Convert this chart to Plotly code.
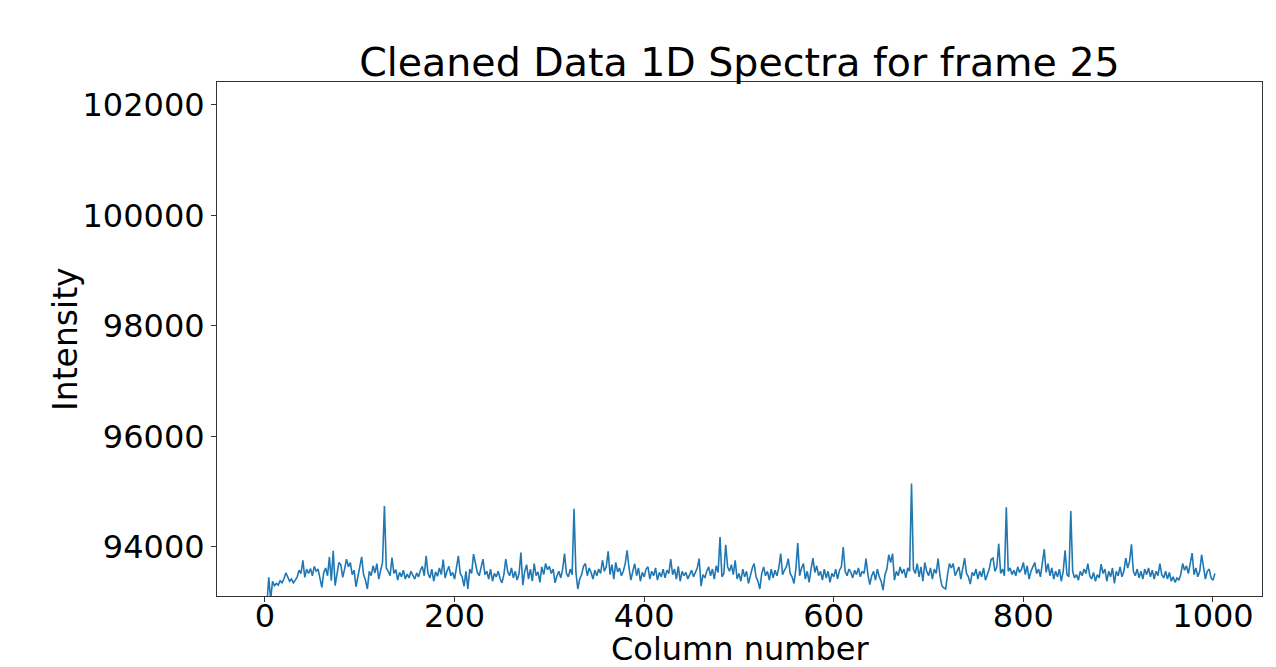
import plotly.graph_objects as go

columns = list(range(0, 1003, 2))

intensity = [
    92900, 92950, 93450, 93050, 93380, 93300, 93340, 93310, 93390, 93350, 93420, 93530, 93460, 93380, 93420, 93350, 93400, 93460, 93580, 93520, 93760, 93450, 93600, 93520, 93610,
    93480, 93650, 93560, 93600, 93420, 93270, 93540, 93620, 93480, 93820, 93390, 93930, 93300, 93560, 93720, 93680, 93450, 93600, 93780, 93640, 93720, 93500, 93580, 93280, 93450,
    93610, 93820, 93500, 93400, 93240, 93560, 93480, 93660, 93530, 93700, 93420, 93600, 93720, 94740, 93620, 93560, 93480, 93810, 93520, 93590, 93400, 93540, 93460, 93580, 93420,
    93510, 93440, 93560, 93490, 93420, 93530, 93460, 93580, 93650, 93480, 93840, 93520, 93440, 93600, 93380, 93550, 93470, 93620, 93500, 93770, 93440, 93560, 93650, 93480, 93540,
    93420, 93600, 93840, 93520, 93460, 93290, 93560, 93240, 93600, 93520, 93870, 93710, 93540, 93480, 93620, 93780, 93500, 93560, 93420, 93600, 93380, 93520, 93460, 93560, 93430,
    93350, 93500, 93780, 93560, 93480, 93620, 93440, 93560, 93400, 93520, 93900, 93310, 93560, 93680, 93420, 93600, 93380, 93700, 93480, 93550, 93360, 93640, 93500, 93700, 93590,
    93650, 93520, 93600, 93350, 93480, 93560, 93440, 93600, 93880, 93520, 93460, 93600, 93500, 94690, 93540, 93240, 93420, 93500, 93650, 93700, 93480, 93620, 93540, 93420, 93580,
    93480, 93600, 93520, 93760, 93560, 93640, 93920, 93500, 93680, 93420, 93720, 93550, 93620, 93480, 93560, 93700, 93940, 93620, 93400, 93560, 93700, 93480, 93620, 93380, 93540,
    93460, 93600, 93640, 93420, 93560, 93480, 93620, 93400, 93540, 93460, 93600, 93440, 93580, 93520, 93780, 93500, 93600, 93420, 93650, 93380, 93560, 93480, 93540, 93420, 93500,
    93580, 93460, 93540, 93620, 93790, 93290, 93500, 93440, 93560, 93640, 93480, 93600, 93420, 93660, 93540, 94180, 93460, 93520, 94040, 93640, 93560, 93680, 93500, 93760, 93420,
    93520, 93380, 93600, 93460, 93560, 93340, 93500, 93620, 93700, 93460, 93380, 93240, 93520, 93640, 93480, 93560, 93400, 93600, 93440, 93580, 93480, 93620, 93880, 93500, 93580,
    93640, 93790, 93520, 93460, 93340, 93600, 94070, 93480, 93620, 93700, 93420, 93560, 93360, 93600, 93800, 93540, 93660, 93480, 93560, 93400, 93600, 93440, 93560, 93360, 93520,
    93460, 93600, 93420, 93580, 93640, 94000, 93560, 93480, 93600, 93540, 93440, 93580, 93500, 93620, 93460, 93560, 93520, 93790, 93500, 93320, 93480, 93560, 93400, 93600, 93460,
    93380, 93220, 93500, 93600, 93860, 93720, 93880, 93400, 93560, 93480, 93640, 93520, 93600, 93440, 93620, 93560, 95150, 93600, 93520, 93700, 93460, 93640, 93380, 93720, 93560,
    93480, 93620, 93420, 93600, 93520, 93790, 93480, 93300, 93260, 93240, 93500, 93700, 93620, 93700, 93480, 93560, 93640, 93420, 93600, 93800, 93520, 93460, 93330, 93540, 93480,
    93600, 93420, 93560, 93460, 93620, 93400, 93520, 93600, 93780, 93800, 93560, 93640, 94060, 93520, 93600, 93480, 94720, 93560, 93620, 93500, 93580, 93480, 93640, 93540, 93600,
    93720, 93500, 93660, 93420, 93560, 93640, 93720, 93520, 93600, 93460, 93720, 93960, 93540, 93700, 93480, 93620, 93420, 93560, 93460, 93600, 93380, 93560, 93940, 93500, 93460,
    94650, 93560, 93440, 93500, 93400, 93560, 93480, 93600, 93520, 93700, 93480, 93420, 93540, 93380, 93500, 93440, 93690, 93520, 93600, 93380, 93560, 93460, 93620, 93340, 93560,
    93480, 93640, 93460, 93560, 93800, 93620, 93740, 94050, 93560, 93480, 93600, 93440, 93560, 93420, 93600, 93500, 93620, 93460, 93580, 93420, 93560, 93480, 93700, 93500, 93440,
    93560, 93420, 93540, 93380, 93460, 93360, 93440, 93400, 93500, 93700, 93580, 93660, 93520, 93700, 93890, 93500, 93620, 93460, 93560, 93860, 93640, 93420, 93560, 93600, 93440,
    93400, 93520,
]

y_ticks = [94000, 96000, 98000, 100000, 102000]
y_tick_labels = ["94000", "96000", "98000", "100000", "102000"]
x_ticks = [0, 200, 400, 600, 800, 1000]
x_tick_labels = ["0", "200", "400", "600", "800", "1000"]

font_family = "DejaVu Sans"
spine_color = "#333333"

fig = go.Figure()
fig.add_trace(go.Scatter(
    x=columns, y=intensity, mode="lines",
    line=dict(color="#1f77b4", width=1.6),
    showlegend=False,
))

plot_w = 1276 - 217 - 14
plot_h = 667 - 82 - 71

fig.update_layout(
    width=1276, height=667,
    margin=dict(l=217, r=14, t=82, b=71, autoexpand=False),
    paper_bgcolor="white", plot_bgcolor="white",
    font=dict(family=font_family, color="black", size=32),
    title=dict(
        text="Cleaned Data 1D Spectra for frame 25",
        x=0.5, xref="paper", xanchor="center",
        y=1 - 62 / 667, yref="container", yanchor="middle",
        font=dict(family=font_family, size=39.5, color="black"),
    ),
    annotations=[
        dict(text="Column number", xref="paper", yref="paper",
             x=0.5, y=-(649 - 596) / plot_h, xanchor="center", yanchor="middle",
             showarrow=False, font=dict(size=32, family=font_family, color="black")),
        dict(text="Intensity", xref="paper", yref="paper",
             x=-(217 - 65) / plot_w, y=0.5, xanchor="center", yanchor="middle",
             textangle=-90, showarrow=False,
             font=dict(size=33, family=font_family, color="black")),
    ],
)

fig.update_xaxes(
    range=[-50.6, 1051.7], automargin=False,
    tickvals=x_ticks, ticktext=x_tick_labels,
    ticks="outside", ticklen=5, tickwidth=1, tickcolor=spine_color,
    ticklabelstandoff=-13,
    showline=True, linecolor=spine_color, linewidth=1, mirror=True,
    showgrid=False, zeroline=False,
    tickfont=dict(size=32),
)
fig.update_yaxes(
    range=[93113, 102416], automargin=False,
    tickvals=y_ticks, ticktext=y_tick_labels,
    ticks="outside", ticklen=5, tickwidth=1, tickcolor=spine_color,
    showline=True, linecolor=spine_color, linewidth=1, mirror=True,
    showgrid=False, zeroline=False,
    tickfont=dict(size=32),
)

fig.write_html("out.html")
